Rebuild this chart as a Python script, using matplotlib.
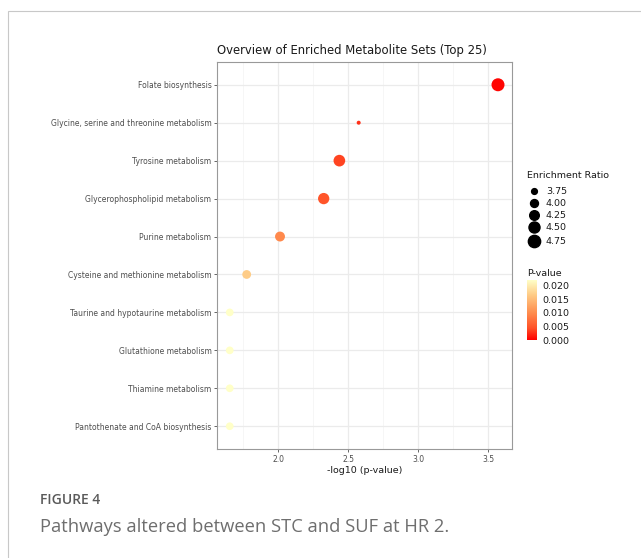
import numpy as np
import matplotlib
matplotlib.use("Agg")
from matplotlib import pyplot as plt
from matplotlib.colors import LinearSegmentedColormap, Normalize
from matplotlib.patches import Rectangle

# data (top to bottom)
pathways = ["Folate biosynthesis",
            "Glycine, serine and threonine metabolism",
            "Tyrosine metabolism",
            "Glycerophospholipid metabolism",
            "Purine metabolism",
            "Cysteine and methionine metabolism",
            "Taurine and hypotaurine metabolism",
            "Glutathione metabolism",
            "Thiamine metabolism",
            "Pantothenate and CoA biosynthesis"]
neg_log_p = [3.571, 2.576, 2.438, 2.326, 2.014, 1.776, 1.655, 1.655, 1.655, 1.655]
enrich_ratio = [4.90, 3.60, 4.62, 4.55, 4.30, 4.12, 3.97, 3.97, 3.97, 3.97]
size_ticks = [3.75, 4.00, 4.25, 4.50, 4.75]
p_ticks = [0.000, 0.005, 0.010, 0.015, 0.020]

pvals = 10 ** (-np.array(neg_log_p))

cmap = LinearSegmentedColormap.from_list(
    "redyel", [(0.0, "#ff0000"), (0.2, "#ff5228"), (0.45, "#ff8c4e"),
               (0.75, "#fecb85"), (1.0, "#ffffc8")])
norm = Normalize(vmin=0, vmax=pvals.max())


def msize(er):
    # area grows linearly with enrichment ratio (diameter in px -> points^2)
    d2 = np.maximum(-407.7 + 117.7 * np.asarray(er), 9)
    d_pt = np.sqrt(d2) * 0.72
    return d_pt ** 2


fig = plt.figure(figsize=(6.41, 5.58), dpi=100)
fig.patches.append(Rectangle((8 / 641, -0.1), 1.2, 1.1 - 11 / 558,
                             transform=fig.transFigure, fill=False,
                             edgecolor="#c8c8c8", linewidth=0.8))

ax = fig.add_axes([217 / 641, 1 - 449 / 558, 295 / 641, 387 / 558])
y = np.arange(len(pathways))[::-1]
ax.scatter(neg_log_p, y, s=msize(enrich_ratio), c=pvals, cmap=cmap, norm=norm,
           linewidths=0, zorder=3)

ax.set_xlim(1.564, 3.671)
ax.set_ylim(-0.6, len(pathways) - 0.4)
ax.set_xticks([2.0, 2.5, 3.0, 3.5])
ax.set_xticks([1.75, 2.25, 2.75, 3.25], minor=True)
ax.set_yticks(y)
ax.set_yticklabels(pathways)
ax.grid(which="major", color="#ebebeb", linewidth=0.9, zorder=0)
ax.grid(which="minor", axis="x", color="#f3f3f3", linewidth=0.5, zorder=0)
ax.set_axisbelow(True)
ax.tick_params(axis="both", which="major", labelsize=5.5, labelcolor="#4d4d4d",
               color="#4d4d4d", length=2.5, width=0.6, pad=1.5)
ax.tick_params(axis="x", which="minor", length=0)
for sp in ax.spines.values():
    sp.set_color("#999999")
    sp.set_linewidth(0.8)
ax.set_xlabel("-log10 (p-value)", fontsize=6.8, color="#1a1a1a", labelpad=2)
ax.set_title("Overview of Enriched Metabolite Sets (Top 25)", fontsize=8.4,
             color="#1a1a1a", loc="left", pad=6)

# size legend
fig.text(527 / 641, 1 - 176 / 558, "Enrichment Ratio", fontsize=6.8,
         color="#1a1a1a", va="center")
leg_y = [191, 203, 215, 227, 241]
for v, yy in zip(size_ticks, leg_y):
    fig.add_artist(plt.Line2D([534 / 641], [1 - yy / 558], marker="o",
                              linestyle="none", color="black",
                              markersize=np.sqrt(msize(v)),
                              transform=fig.transFigure))
    fig.text(546 / 641, 1 - yy / 558, f"{v:.2f}", fontsize=6.8,
             color="#1a1a1a", va="center")

# colour legend
fig.text(527 / 641, 1 - 273 / 558, "P-value", fontsize=6.8, color="#1a1a1a",
         va="center")
cax = fig.add_axes([527 / 641, 1 - 340 / 558, 10 / 641, 60 / 558])
grad = np.linspace(0, pvals.max(), 256).reshape(-1, 1)
cax.imshow(grad, aspect="auto", cmap=cmap, norm=norm, origin="lower",
           extent=[0, 1, 0, pvals.max()])
cax.set_xticks([])
cax.yaxis.tick_right()
cax.set_yticks(p_ticks)
cax.set_yticklabels([f"{t:.3f}" for t in p_ticks])
cax.tick_params(axis="y", labelsize=6.8, labelcolor="#1a1a1a", length=2,
                color="white", pad=2)
for sp in cax.spines.values():
    sp.set_visible(False)

# caption
fig.text(40 / 641, 1 - 500 / 558, "FIGURE 4", fontsize=10, color="#5a5a5a",
         family="Open Sans", fontweight="semibold", va="center")
fig.text(40 / 641, 1 - 527 / 558, "Pathways altered between STC and SUF at HR 2.",
         fontsize=13.2, color="#6e6e6e", family="Open Sans", va="center")

fig.savefig("out.png", dpi=100)
